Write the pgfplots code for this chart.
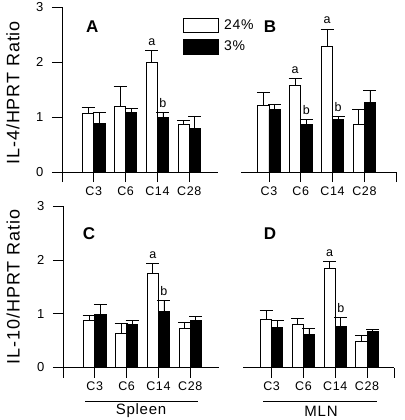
\documentclass[border=0pt]{standalone}
\usepackage{fontspec}
\setmainfont{Liberation Sans}[LetterSpace=5]
\usepackage{pgfplots}
\pgfplotsset{compat=1.18}

\pgfplotsset{
  panel/.style={
    ymin=0, ymax=3,
    axis x line=bottom, axis y line=left,
    axis line style={-, line width=0.8pt, black},
    tick style={black, line width=0.8pt},
    tick align=outside, major tick length=10pt,
    ytick={0,1,2,3},
    yticklabel style={font=\fontsize{13}{13}\selectfont, xshift=-5pt},
    xticklabel style={font=\fontsize{12.5}{13}\selectfont, yshift=-1pt},
    /pgf/number format/assume math mode=true,
    ybar=0pt, bar width=0.35,
    clip=false,
    anchor=south west,
    legend image code/.code={\draw[#1, draw=black, line width=0.8pt] (0pt,-7.5pt) rectangle (35pt,7pt);},
  },
  white bars/.style={fill=white, draw=black, line width=0.8pt,
    error bars/.cd, y dir=plus, y explicit,
    error bar style={line width=0.8pt, black},
    error mark options={line width=0.8pt, black, mark size=6.5pt, rotate=90}},
  black bars/.style={fill=black, draw=black, line width=0.8pt,
    error bars/.cd, y dir=plus, y explicit,
    error bar style={line width=0.8pt, black},
    error mark options={line width=0.8pt, black, mark size=6.5pt, rotate=90}},
}
\tikzset{
  sig/.style={font=\fontsize{12.5}{13}\selectfont, anchor=base, yshift=5pt},
  plab/.style={font=\fontsize{17}{17}\selectfont\bfseries},
}

\begin{document}
\begin{tikzpicture}
\useasboundingbox (0,0) rectangle (404pt,-420pt);

% ---------------- Panel A ----------------
\begin{axis}[panel, x=31.8pt, y=55pt, at={(62pt,-172pt)},
  xmin=0, xmax=4.9,
  xtick={0,1,2,3,4}, xticklabels={,C3,C6,C14,C28},
  ylabel={IL-4/HPRT Ratio},
  ylabel style={font=\fontsize{18}{18}\selectfont, at={(axis description cs:-0.315,0.48)}, anchor=center, rotate=0},
  legend style={draw=none, fill=none, at={(axis description cs:0.777,0.939)}, anchor=north west,
    inner sep=0pt, row sep=6pt, font=\fontsize{14}{14}\selectfont,
    nodes={inner xsep=5pt}},
  legend cell align=left,
]
\addplot[white bars] coordinates {(1,1.06) +- (0,0.12) (2,1.20) +- (0,0.36) (3,1.99) +- (0,0.22) (4,0.87) +- (0,0.06)};
\addlegendentry{24\%}
\addplot[black bars] coordinates {(1,0.89) +- (0,0.20) (2,1.08) +- (0,0.07) (3,0.99) +- (0,0.09) (4,0.80) +- (0,0.22)};
\addlegendentry{3\%}
\node[sig] at (axis cs:2.825,2.21) {a};
\node[sig] at (axis cs:3.175,1.08) {b};
\node[plab] at (axis cs:0.95,2.65) {A};
\end{axis}

% ---------------- Panel B ----------------
\begin{axis}[panel, x=31.8pt, y=55pt, at={(241pt,-172pt)},
  xmin=0.12, xmax=5, axis y line=none,
  xtick={1,2,3,4,5}, xticklabels={C3,C6,C14,C28,},
]
\addplot[white bars] coordinates {(1,1.22) +- (0,0.23) (2,1.57) +- (0,0.13) (3,2.28) +- (0,0.32) (4,0.87) +- (0,0.26)};
\addplot[black bars] coordinates {(1,1.13) +- (0,0.10) (2,0.87) +- (0,0.08) (3,0.96) +- (0,0.05) (4,1.26) +- (0,0.22)};
\node[sig] at (axis cs:1.825,1.70) {a};
\node[sig] at (axis cs:2.175,0.95) {b};
\node[sig] at (axis cs:2.825,2.60) {a};
\node[sig] at (axis cs:3.175,1.01) {b};
\node[plab] at (axis cs:1.03,2.65) {B};
\end{axis}

% ---------------- Panel C ----------------
\begin{axis}[panel, x=31.8pt, y=53.7pt, at={(63pt,-367.5pt)},
  xmin=0, xmax=4.9,
  xtick={0,1,2,3,4}, xticklabels={,C3,C6,C14,C28},
  ylabel={IL-10/HPRT Ratio},
  ylabel style={font=\fontsize{18}{18}\selectfont, at={(axis description cs:-0.32,0.50)}, anchor=center, rotate=0},
]
\addplot[white bars] coordinates {(1,0.88) +- (0,0.09) (2,0.63) +- (0,0.19) (3,1.75) +- (0,0.19) (4,0.73) +- (0,0.11)};
\addplot[black bars] coordinates {(1,0.99) +- (0,0.19) (2,0.80) +- (0,0.07) (3,1.04) +- (0,0.21) (4,0.87) +- (0,0.08)};
\node[sig] at (axis cs:2.825,1.94) {a};
\node[sig] at (axis cs:3.175,1.25) {b};
\node[plab] at (axis cs:0.82,2.49) {C};
\end{axis}

% ---------------- Panel D ----------------
\begin{axis}[panel, x=31.8pt, y=53.7pt, at={(243pt,-367.5pt)},
  xmin=0.1, xmax=4.85, axis y line=none,
  xtick={1,2,3,4,4.85}, xticklabels={C3,C6,C14,C28,},
]
\addplot[white bars] coordinates {(1,0.89) +- (0,0.18) (2,0.81) +- (0,0.10) (3,1.84) +- (0,0.13) (4,0.48) +- (0,0.12)};
\addplot[black bars] coordinates {(1,0.74) +- (0,0.13) (2,0.61) +- (0,0.12) (3,0.77) +- (0,0.17) (4,0.67) +- (0,0.04)};
\node[sig] at (axis cs:2.825,1.97) {a};
\node[sig] at (axis cs:3.175,0.94) {b};
\node[plab] at (axis cs:0.95,2.49) {D};
\end{axis}

% group labels
\draw[line width=0.8pt] (85pt,-401pt) -- (198pt,-401pt);
\node[font=\fontsize{15}{15}\selectfont] at (141pt,-411pt) {Spleen};
\draw[line width=0.8pt] (263pt,-401pt) -- (377pt,-401pt);
\node[font=\fontsize{15}{15}\selectfont] at (321pt,-411pt) {MLN};
\end{tikzpicture}
\end{document}
